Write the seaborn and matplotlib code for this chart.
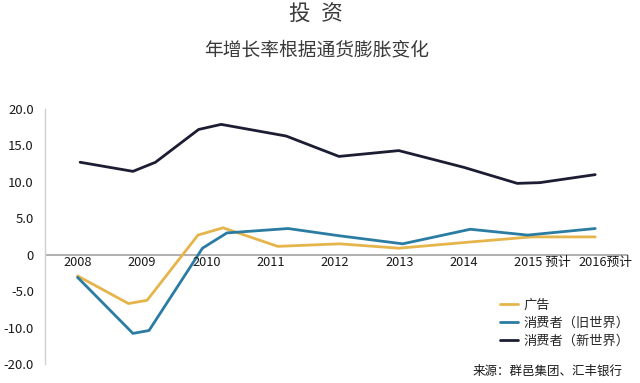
import numpy as np
import pandas as pd
import seaborn as sns
import matplotlib.pyplot as plt

# data (fractional years)
ad_x = [2008.0, 2008.79, 2009.08, 2009.87, 2010.26, 2011.11, 2012.07, 2012.99, 2014.1, 2015.05, 2016.04]
ad_y = [-2.9, -6.7, -6.25, 2.7, 3.7, 1.15, 1.5, 0.9, 1.75, 2.45, 2.45]
old_x = [2008.0, 2008.86, 2009.11, 2009.94, 2010.32, 2011.27, 2012.07, 2013.05, 2014.1, 2014.99, 2016.04]
old_y = [-3.1, -10.8, -10.4, 0.9, 3.0, 3.6, 2.6, 1.5, 3.5, 2.7, 3.6]
new_x = [2008.04, 2008.86, 2009.21, 2009.88, 2010.23, 2011.24, 2012.06, 2012.99, 2014.0, 2014.83, 2015.18, 2016.04]
new_y = [12.7, 11.45, 12.7, 17.2, 17.9, 16.3, 13.5, 14.3, 12.0, 9.8, 9.9, 11.0]

series_names = ['广告', '消费者（旧世界）', '消费者（新世界）']
colors = ['#E5B54C', '#2B7CA3', '#1B1E33']

years = [2008, 2009, 2010, 2011, 2012, 2013, 2014, 2015, 2016]
year_labels = ['2008', '2009', '2010', '2011', '2012', '2013', '2014', '2015 预计', '2016预计']
ytick_pos = [20, 15, 10, 5, 0, -5, -10, -15]
ytick_labels = ['20.0', '15.0', '10.0', '5.0', '0', '-5.0', '-10.0', '-20.0']

df = pd.concat([
    pd.DataFrame({'year': ad_x, 'value': ad_y, 'series': series_names[0]}),
    pd.DataFrame({'year': old_x, 'value': old_y, 'series': series_names[1]}),
    pd.DataFrame({'year': new_x, 'value': new_y, 'series': series_names[2]}),
])

sns.set_style('white')
plt.rcParams['font.family'] = ['Noto Sans CJK SC', 'DejaVu Sans']

fig = plt.figure(figsize=(6.4, 3.83), dpi=100)
ax = fig.add_axes([0.0703, 0.0496, 0.911, 0.677])

sns.lineplot(data=df, x='year', y='value', hue='series', hue_order=series_names,
             palette=dict(zip(series_names, colors)), estimator=None, sort=False,
             linewidth=2.0, ax=ax)

ax.set_xlim(2007.494, 2016.55)
ax.set_ylim(-15, 20.6)
ax.set_xlabel('')
ax.set_ylabel('')

# zero line acts as the x axis
ax.axhline(0, color='#9a9a9a', linewidth=1.1, zorder=0)
ax.set_xticks([])
for yr, lbl in zip(years, year_labels):
    ax.text(yr - 0.22, -1.07, lbl, ha='left', va='center', fontsize=9.2,
            color='#1a1a1a', fontweight='medium')

ax.set_yticks(ytick_pos)
ax.set_yticklabels(ytick_labels, fontsize=9.5, color='#1a1a1a')
ax.tick_params(axis='y', which='major', length=0, pad=8)
ax.set_yticks([20], minor=True)
ax.tick_params(axis='y', which='minor', length=7, color='#cccccc', width=1)

for side in ['top', 'right', 'bottom']:
    ax.spines[side].set_visible(False)
ax.spines['left'].set_color('#d0d0d0')
ax.spines['left'].set_linewidth(1)
ax.spines['left'].set_bounds(-15, 20)

ax.legend(loc='upper left', bbox_to_anchor=(500 / 640, 1 - 299 / 383),
          bbox_transform=fig.transFigure, frameon=False, borderaxespad=0,
          borderpad=0, handlelength=1.4, handletextpad=0.35, labelspacing=0.35,
          prop={'size': 9.5}, title=None)

fig.text(0.494, 0.961, '投\u2002资', ha='center', va='center', fontsize=15.5,
         color='#3a3a3a', fontweight='light')
fig.text(0.495, 0.869, '年增长率根据通货膨胀变化', ha='center', va='center',
         fontsize=13.5, color='#3a3a3a', fontweight='light')
fig.text(0.972, 0.031, '来源：群邑集团、汇丰银行', ha='right', va='center',
         fontsize=9, color='#1a1a1a')

fig.savefig('out.png', dpi=100)
